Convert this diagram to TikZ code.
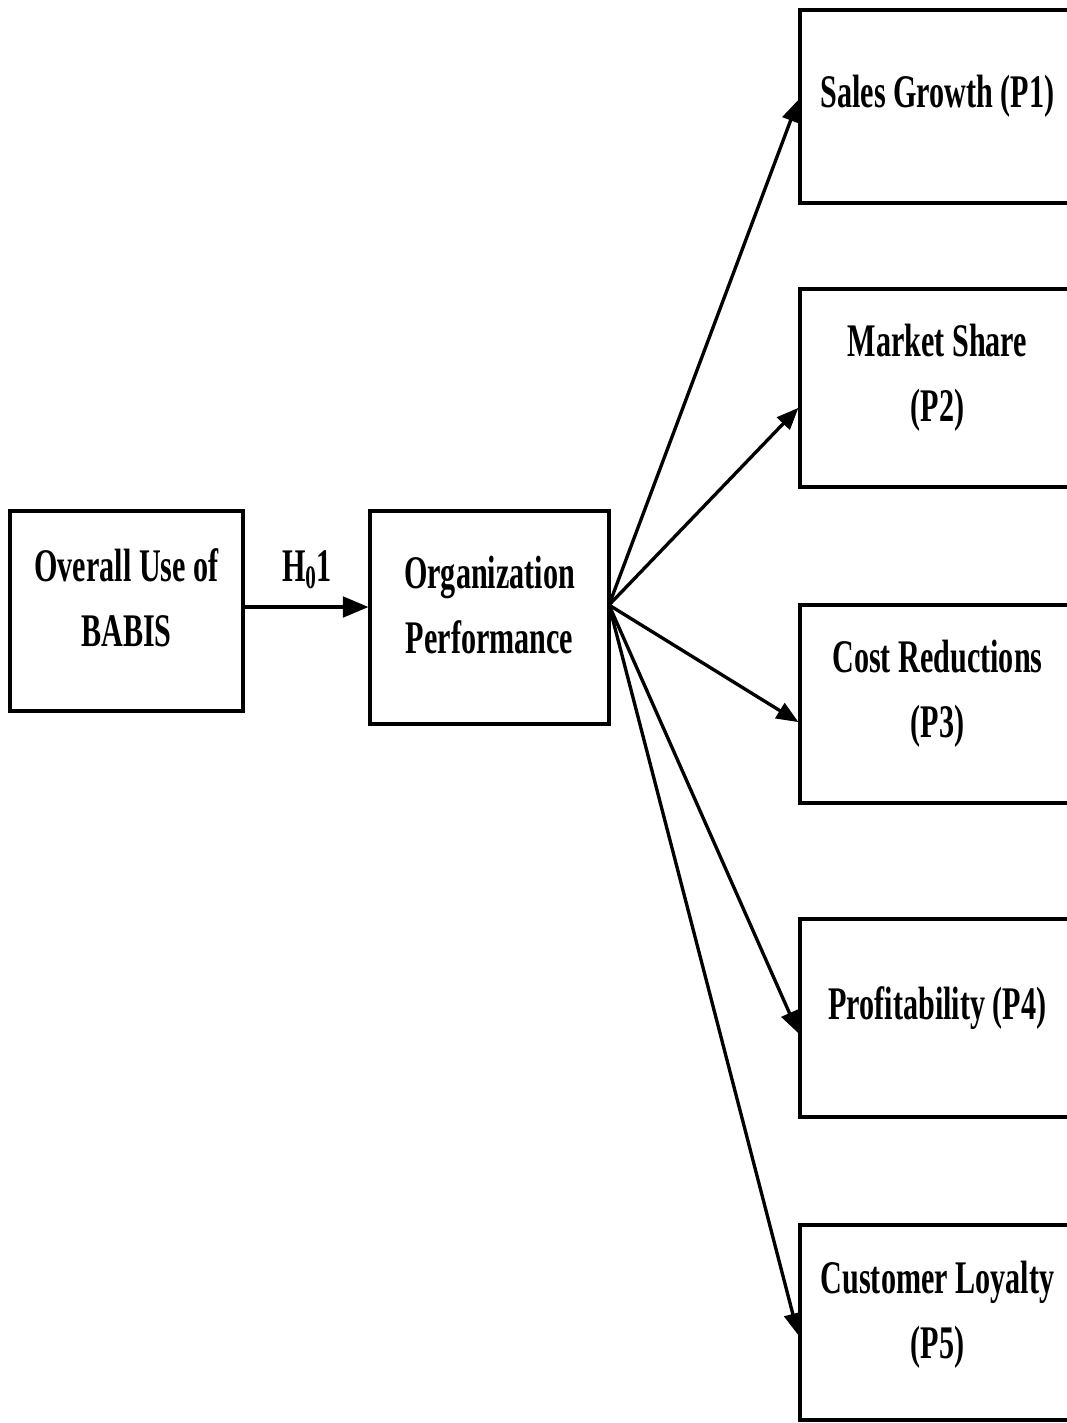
\documentclass[tikz,border=0pt]{standalone}
\usepackage{fontspec}
\usepackage{tikz}
\usetikzlibrary{arrows}
\newfontfamily\boxfont[FakeStretch=0.645]{Liberation Serif}
\tikzset{
    box/.style = {rectangle, draw=black, line width=2pt, inner sep=0pt},
    lbl/.style = {align=center, inner sep=0pt, yshift=0.2cm, font=\boxfont\bfseries\fontsize{26.6}{37}\selectfont},
    pbox/.style = {box, minimum width=5.5cm, minimum height=3.96cm},
    link/.style = {->, line width=1.9pt}
}
\begin{document}
\begin{tikzpicture}
            [x=0.02cm, y=-0.02cm, >=triangle 45]
            \useasboundingbox (0,0) rectangle (1067,1423);

            % left side
            \node [box, minimum width=4.66cm, minimum height=4cm] (use) at (126.5,611) {};
            \node [lbl, yshift=0.06cm] (usetxt) at (use.center) {Overall Use of\\BABIS};
            \node [box, minimum width=4.78cm, minimum height=4.26cm] (perf) at (489.5,617.5) {};
            \node [lbl, yshift=0.04cm] (perftxt) at (perf.center) {Organization\\Performance};
            \node [lbl, yshift=-0.2cm] (h) at (307,570) {H\textsubscript{0}1};

            % proxies
            \node [pbox, minimum height=3.86cm] (sales) at (937.5,106.5) {};
            \node [lbl] (salestxt) at (sales.center) {Sales Growth (P1)};
            \node [pbox] (share) at (937.5,388) {};
            \node [lbl] (sharetxt) at (share.center) {Market Share\\(P2)};
            \node [pbox] (cost) at (937.5,704) {};
            \node [lbl] (costtxt) at (cost.center) {Cost Reductions\\(P3)};
            \node [pbox] (profit) at (937.5,1018) {};
            \node [lbl] (profittxt) at (profit.center) {Profitability (P4)};
            \node [pbox, minimum height=3.9cm] (loyal) at (937.5,1322.5) {};
            \node [lbl, yshift=-0.04cm] (loyaltxt) at (loyal.center) {Customer Loyalty\\(P5)};

            \coordinate (fan) at (609,605);

            \draw [link, line width=2.4pt] (use.east |- 0,607) -- (perf.west |- 0,607);
            \draw [link] (fan) -- ([yshift=0.13cm]sales.west);
            \draw [link] (fan) -- ([yshift=-0.4cm]share.west);
            \draw [link] (fan) -- ([yshift=-0.36cm]cost.west);
            \draw [link] (fan) -- ([yshift=-0.3cm]profit.west);
            \draw [link] (fan) -- ([yshift=-0.25cm]loyal.west);
\end{tikzpicture}
\end{document}
